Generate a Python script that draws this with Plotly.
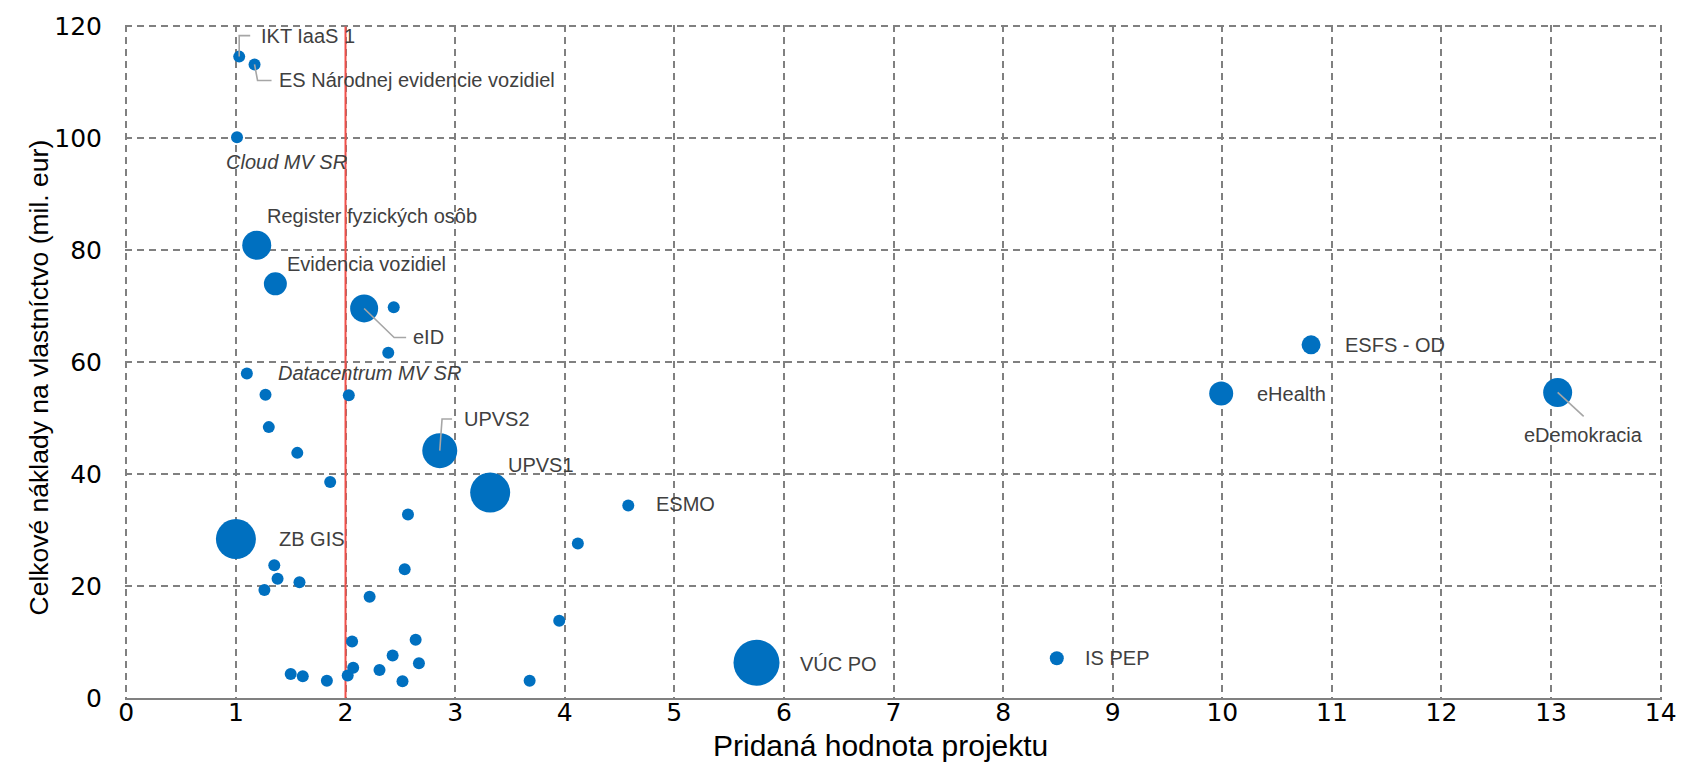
import plotly.graph_objects as go

# ---- data ----
named_labels = ["IKT IaaS 1", "ES Národnej evidencie vozidiel", "Cloud MV SR",
                "Register fyzických osôb", "Evidencia vozidiel", "eID",
                "Datacentrum MV SR", "UPVS2", "UPVS1", "ESMO", "ZB GIS",
                "VÚC PO", "IS PEP", "eHealth", "ESFS - OD", "eDemokracia"]
named_value = [1.03, 1.17, 1.01, 1.19, 1.36, 2.17, 1.10, 2.86, 3.32, 4.58, 1.00,
               5.75, 8.49, 9.99, 10.81, 13.06]
named_cost = [114.6, 113.2, 100.2, 80.9, 74.0, 69.6, 58.0, 44.2, 36.7, 34.4, 28.4,
              6.3, 7.1, 54.4, 63.1, 54.6]
named_weight = [12, 12, 12, 29, 23, 28, 12, 35, 40, 12, 40, 46, 14, 24, 19, 29]

other_value = [2.44, 2.39, 1.27, 2.03, 1.30, 1.56, 1.86, 2.57, 4.12, 2.54, 1.35, 1.38,
               1.58, 1.26, 2.22, 3.95, 2.06, 2.64, 2.43, 2.67, 2.07, 2.31, 1.50, 1.61,
               2.02, 1.83, 2.52, 3.68]
other_cost = [69.8, 61.7, 54.2, 54.1, 48.4, 43.8, 38.6, 32.8, 27.6, 23.0, 23.7, 21.3,
              20.7, 19.3, 18.1, 13.8, 10.1, 10.4, 7.6, 6.2, 5.4, 5.0, 4.3, 3.9,
              4.0, 3.1, 3.0, 3.1]
other_weight = [12] * len(other_value)

threshold_x = 2

x_ticks = list(range(0, 15))
y_ticks = list(range(0, 121, 20))

x_title = "Pridaná hodnota projektu"
y_title = "Celkové náklady na vlastníctvo (mil. eur)"

# ---- label placement (pixel offsets from the point; screen y down) ----
label_style = {
    "IKT IaaS 1": (20, -21, "left", False),
    "ES Národnej evidencie vozidiel": (22, 16, "left", False),
    "Cloud MV SR": (49, 25, "center", True),
    "Register fyzických osôb": (8, -29, "left", False),
    "Evidencia vozidiel": (10, -20, "left", False),
    "eID": (47, 29, "left", False),
    "Datacentrum MV SR": (29, 0, "left", True),
    "UPVS2": (22, -32, "left", False),
    "UPVS1": (16, -28, "left", False),
    "ESMO": (26, -1, "left", False),
    "ZB GIS": (41, 0, "left", False),
    "VÚC PO": (41, 1, "left", False),
    "IS PEP": (26, 0, "left", False),
    "eHealth": (34, 0, "left", False),
    "ESFS - OD": (32, 0, "left", False),
    "eDemokracia": (26, 43, "center", False),
}
leaders = {
    "IKT IaaS 1": "M0,0 L0,21 L11,21",
    "ES Národnej evidencie vozidiel": "M0,0 L3,-16 L17,-16",
    "eID": "M0,0 L30,-29 L42,-29",
    "UPVS2": "M0,0 L2.3,31.7 L12.3,31.7",
    "eDemokracia": "M0,0 L26,-24",
}

BLUE = "#0070C0"
LABEL_FONT = "Liberation Sans, Arial, sans-serif"
TICK_FONT = dict(family="DejaVu Sans, sans-serif", size=25, color="#000000")
GRID = dict(showgrid=True, gridcolor="#808080", griddash="7px,5px", gridwidth=1.6)

fig = go.Figure()

fig.add_trace(go.Scatter(
    x=other_value, y=other_cost, mode="markers",
    marker=dict(size=other_weight, sizemode="diameter", color=BLUE, opacity=1,
                line=dict(width=0)),
    hoverinfo="x+y", showlegend=False))
fig.add_trace(go.Scatter(
    x=named_value, y=named_cost, mode="markers", text=named_labels,
    marker=dict(size=named_weight, sizemode="diameter", color=BLUE, opacity=1,
                line=dict(width=0)),
    hoverinfo="text+x+y", showlegend=False))

# threshold line
fig.add_shape(type="line", xref="x", yref="y", x0=threshold_x, x1=threshold_x,
              y0=y_ticks[0], y1=y_ticks[-1], line=dict(color="#F0504A", width=2),
              layer="between")

annotations = []
for name, xv, yv in zip(named_labels, named_value, named_cost):
    dx, dy, anchor, italic = label_style[name]
    txt = f"<i>{name}</i>" if italic else name
    annotations.append(dict(
        x=xv, y=yv, xref="x", yref="y", text=txt, showarrow=False,
        xanchor=anchor, yanchor="middle", xshift=dx, yshift=-dy,
        font=dict(family=LABEL_FONT, size=20, color="#404040")))
    if name in leaders:
        fig.add_shape(type="path", xref="x", yref="y", xsizemode="pixel", ysizemode="pixel",
                      xanchor=xv, yanchor=yv, path=leaders[name],
                      line=dict(color="#A6A6A6", width=1.6), layer="above")

# axis titles
annotations.append(dict(x=0.5, y=0, xref="paper", yref="paper", text=x_title,
                        showarrow=False, xanchor="center", yanchor="middle",
                        xshift=-13, yshift=-47,
                        font=dict(family=LABEL_FONT, size=30, color="#000000")))
annotations.append(dict(x=0, y=0.5, xref="paper", yref="paper", text=y_title,
                        showarrow=False, xanchor="center", yanchor="middle",
                        textangle=-90, xshift=-87, yshift=-16,
                        font=dict(family=LABEL_FONT, size=26.5, color="#000000")))

fig.update_layout(
    width=1689, height=778,
    margin=dict(l=125, r=16, t=24, b=80),
    paper_bgcolor="white", plot_bgcolor="white",
    annotations=annotations,
    xaxis=dict(
        range=[x_ticks[0] - 0.012, x_ticks[-1] + 0.012], tickvals=x_ticks,
        zeroline=False, showline=True, linecolor="#808080", linewidth=2,
        ticks="", ticklabelstandoff=-9, tickfont=TICK_FONT, **GRID,
    ),
    yaxis=dict(
        range=[y_ticks[0], y_ticks[-1] + 0.25], tickvals=y_ticks,
        zeroline=False, showline=False,
        ticks="", ticklabelstandoff=22, tickfont=TICK_FONT, **GRID,
    ),
)

fig.write_html("out.html", config={"displayModeBar": False},
               post_script="document.body.style.margin='0';")
